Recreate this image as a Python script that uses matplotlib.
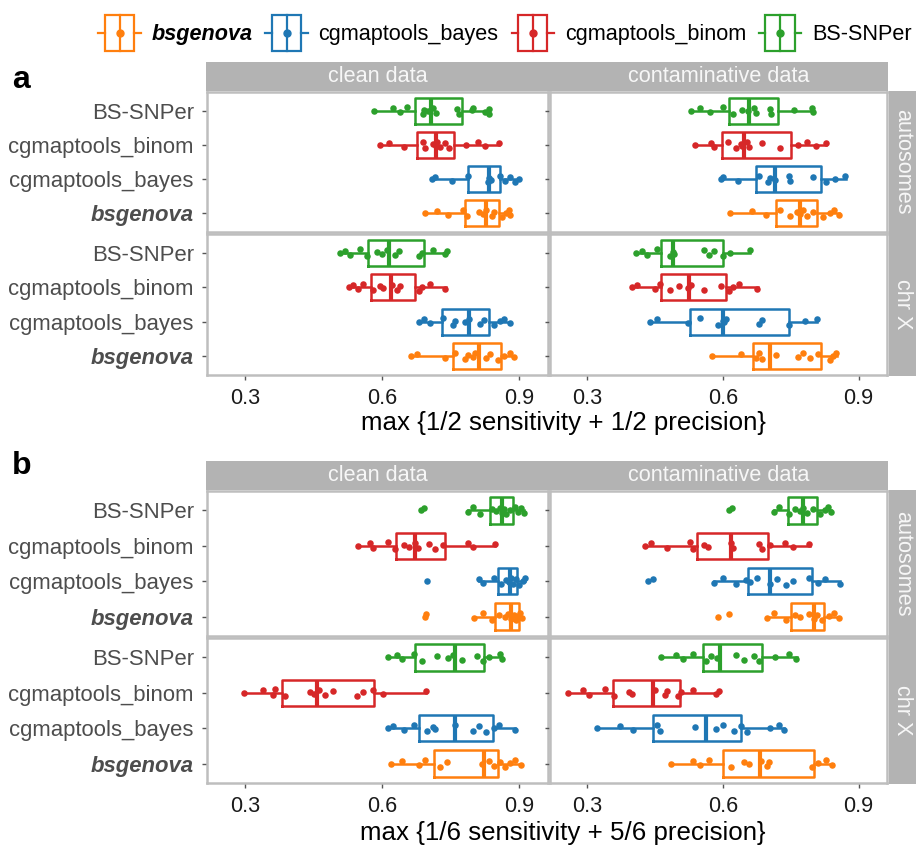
import numpy as np
import matplotlib.pyplot as plt
from matplotlib.legend_handler import HandlerBase
from matplotlib.patches import Rectangle
from matplotlib.lines import Line2D

plt.rcParams['font.family'] = ['Liberation Sans', 'DejaVu Sans']

#%%

# categories, colours and facets

METHODS = ['bsgenova', 'cgmaptools_bayes', 'cgmaptools_binom', 'BS-SNPer']
COLORS = ['#ff7f0e', '#1f77b4', '#d62728', '#2ca02c']
COLS = ['clean data', 'contaminative data']
ROWS = ['autosomes', 'chr X']
XLABELS = {'a': 'max {1/2 sensitivity + 1/2 precision}',
           'b': 'max {1/6 sensitivity + 5/6 precision}'}

#%%

# box stats (whislo, q1, med, q3, whishi) and points, in METHODS order

# panel a
a_clean_auto_box = [(0.695, 0.782, 0.828, 0.856, 0.880),
                    (0.710, 0.788, 0.835, 0.857, 0.899),
                    (0.596, 0.677, 0.718, 0.758, 0.856),
                    (0.582, 0.671, 0.707, 0.774, 0.835)]
a_clean_auto_pts = [[0.695, 0.720, 0.745, 0.778, 0.785, 0.811, 0.820, 0.828, 0.840, 0.844, 0.862, 0.872, 0.877, 0.880],
                    [0.710, 0.716, 0.753, 0.789, 0.831, 0.835, 0.838, 0.858, 0.869, 0.880, 0.891, 0.899],
                    [0.596, 0.616, 0.647, 0.689, 0.695, 0.712, 0.717, 0.721, 0.726, 0.738, 0.747, 0.784, 0.809, 0.826, 0.855],
                    [0.582, 0.623, 0.639, 0.655, 0.689, 0.692, 0.700, 0.712, 0.717, 0.764, 0.769, 0.796, 0.800, 0.826, 0.834, 0.835]]

a_cont_auto_box = [(0.616, 0.718, 0.771, 0.809, 0.857),
                   (0.596, 0.674, 0.716, 0.816, 0.872),
                   (0.537, 0.598, 0.647, 0.751, 0.829),
                   (0.530, 0.614, 0.658, 0.721, 0.799)]
a_cont_auto_pts = [[0.616, 0.665, 0.696, 0.727, 0.749, 0.764, 0.771, 0.778, 0.785, 0.800, 0.822, 0.837, 0.845, 0.857],
                   [0.596, 0.601, 0.634, 0.680, 0.699, 0.705, 0.716, 0.745, 0.749, 0.799, 0.828, 0.847, 0.869],
                   [0.537, 0.574, 0.581, 0.610, 0.628, 0.639, 0.643, 0.654, 0.658, 0.687, 0.727, 0.767, 0.785, 0.806, 0.828],
                   [0.530, 0.550, 0.572, 0.599, 0.623, 0.643, 0.655, 0.669, 0.674, 0.705, 0.707, 0.758, 0.796, 0.799]]

a_clean_x_box = [(0.663, 0.755, 0.813, 0.860, 0.888),
                 (0.680, 0.731, 0.791, 0.833, 0.880),
                 (0.528, 0.575, 0.620, 0.672, 0.740),
                 (0.509, 0.570, 0.615, 0.691, 0.743)]
a_clean_x_pts = [[0.663, 0.676, 0.738, 0.760, 0.782, 0.789, 0.799, 0.804, 0.828, 0.836, 0.853, 0.867, 0.880, 0.888],
                 [0.680, 0.692, 0.705, 0.734, 0.756, 0.760, 0.782, 0.791, 0.815, 0.822, 0.844, 0.857, 0.867, 0.879],
                 [0.528, 0.537, 0.548, 0.559, 0.581, 0.596, 0.601, 0.621, 0.632, 0.639, 0.680, 0.687, 0.705, 0.738],
                 [0.509, 0.519, 0.530, 0.552, 0.566, 0.588, 0.599, 0.610, 0.628, 0.636, 0.680, 0.687, 0.712, 0.738, 0.742]]

a_cont_x_box = [(0.575, 0.666, 0.705, 0.818, 0.853),
                (0.439, 0.528, 0.601, 0.745, 0.809),
                (0.399, 0.463, 0.524, 0.607, 0.677),
                (0.408, 0.463, 0.490, 0.601, 0.660)]
a_cont_x_pts = [[0.575, 0.639, 0.672, 0.680, 0.687, 0.718, 0.767, 0.778, 0.793, 0.811, 0.836, 0.844, 0.851],
                [0.439, 0.453, 0.523, 0.548, 0.588, 0.599, 0.603, 0.607, 0.680, 0.687, 0.745, 0.782, 0.807],
                [0.399, 0.409, 0.450, 0.461, 0.482, 0.502, 0.522, 0.530, 0.558, 0.596, 0.614, 0.621, 0.636, 0.676],
                [0.408, 0.420, 0.431, 0.453, 0.482, 0.490, 0.492, 0.559, 0.570, 0.581, 0.599, 0.616, 0.660]]

# panel b
b_clean_auto_box = [(0.802, 0.847, 0.882, 0.899, 0.907),
                    (0.811, 0.854, 0.880, 0.896, 0.913),
                    (0.548, 0.630, 0.671, 0.737, 0.847),
                    (0.788, 0.837, 0.862, 0.886, 0.911)]
b_clean_auto_pts = [[0.695, 0.697, 0.802, 0.820, 0.840, 0.855, 0.868, 0.875, 0.882, 0.888, 0.892, 0.898, 0.902, 0.907],
                    [0.698, 0.811, 0.820, 0.845, 0.860, 0.872, 0.878, 0.882, 0.886, 0.892, 0.900, 0.908, 0.913],
                    [0.548, 0.573, 0.581, 0.612, 0.628, 0.647, 0.659, 0.671, 0.679, 0.702, 0.716, 0.733, 0.788, 0.800, 0.847],
                    [0.686, 0.692, 0.788, 0.800, 0.815, 0.840, 0.850, 0.858, 0.862, 0.866, 0.872, 0.880, 0.890, 0.898, 0.905, 0.911]]

b_cont_auto_box = [(0.698, 0.750, 0.801, 0.823, 0.857),
                   (0.581, 0.655, 0.705, 0.796, 0.858),
                   (0.428, 0.542, 0.618, 0.699, 0.793),
                   (0.712, 0.743, 0.778, 0.809, 0.840)]
b_cont_auto_pts = [[0.588, 0.614, 0.698, 0.712, 0.740, 0.760, 0.770, 0.790, 0.801, 0.808, 0.820, 0.835, 0.845, 0.857],
                   [0.435, 0.445, 0.581, 0.600, 0.628, 0.650, 0.660, 0.675, 0.705, 0.720, 0.740, 0.755, 0.790, 0.810, 0.825, 0.858],
                   [0.428, 0.441, 0.475, 0.526, 0.534, 0.559, 0.566, 0.618, 0.621, 0.680, 0.687, 0.705, 0.738, 0.756, 0.791],
                   [0.614, 0.620, 0.712, 0.725, 0.745, 0.760, 0.770, 0.778, 0.785, 0.800, 0.815, 0.825, 0.832, 0.840]]

b_clean_x_box = [(0.619, 0.714, 0.822, 0.853, 0.904),
                 (0.612, 0.680, 0.760, 0.842, 0.891),
                 (0.299, 0.382, 0.457, 0.582, 0.696),
                 (0.612, 0.671, 0.760, 0.823, 0.862)]
b_clean_x_pts = [[0.619, 0.643, 0.680, 0.694, 0.727, 0.741, 0.818, 0.833, 0.844, 0.858, 0.869, 0.880, 0.891, 0.904],
                 [0.612, 0.625, 0.647, 0.669, 0.698, 0.712, 0.716, 0.760, 0.800, 0.811, 0.828, 0.844, 0.855, 0.891],
                 [0.299, 0.340, 0.362, 0.366, 0.388, 0.442, 0.450, 0.461, 0.475, 0.493, 0.545, 0.558, 0.581, 0.603, 0.696],
                 [0.612, 0.632, 0.643, 0.669, 0.687, 0.720, 0.745, 0.756, 0.774, 0.807, 0.820, 0.833, 0.858, 0.862]]

b_cont_x_box = [(0.485, 0.601, 0.681, 0.802, 0.844),
                (0.322, 0.445, 0.563, 0.639, 0.734),
                (0.256, 0.356, 0.444, 0.504, 0.592),
                (0.463, 0.555, 0.593, 0.687, 0.764)]
b_cont_x_pts = [[0.485, 0.534, 0.550, 0.570, 0.617, 0.647, 0.658, 0.683, 0.698, 0.702, 0.796, 0.811, 0.828, 0.842],
                [0.322, 0.371, 0.400, 0.453, 0.461, 0.539, 0.585, 0.601, 0.625, 0.639, 0.654, 0.705, 0.723, 0.734],
                [0.256, 0.289, 0.304, 0.339, 0.358, 0.391, 0.399, 0.450, 0.472, 0.475, 0.501, 0.507, 0.534, 0.585, 0.592],
                [0.463, 0.497, 0.512, 0.534, 0.563, 0.574, 0.587, 0.628, 0.647, 0.669, 0.680, 0.716, 0.745, 0.762]]

FACETS = {
    ('a', 0, 0): (a_clean_auto_box, a_clean_auto_pts),
    ('a', 0, 1): (a_cont_auto_box, a_cont_auto_pts),
    ('a', 1, 0): (a_clean_x_box, a_clean_x_pts),
    ('a', 1, 1): (a_cont_x_box, a_cont_x_pts),
    ('b', 0, 0): (b_clean_auto_box, b_clean_auto_pts),
    ('b', 0, 1): (b_cont_auto_box, b_cont_auto_pts),
    ('b', 1, 0): (b_clean_x_box, b_clean_x_pts),
    ('b', 1, 1): (b_cont_x_box, b_cont_x_pts),
}

#%%

# layout (pixels from top-left) and style

W, H = 919, 847
FS = 15.6
STRIP_BG = '#b3b3b3'
BORDER = '#bebebe'
COL_X = [(207, 548), (550, 887)]
RSTRIP_X = (889, 916)
LAYOUT = {'a': dict(strip=(62, 91), rows=[(92, 232), (234, 375)], lab_base=88, xlab=423),
          'b': dict(strip=(461, 490), rows=[(491, 636), (638, 783)], lab_base=474, xlab=833)}
JITTER = [0.00, 0.07, -0.05, 0.10, -0.09, 0.03, -0.02, 0.08,
          -0.07, 0.05, -0.10, 0.01, 0.09, -0.04, 0.06, -0.08]

fig = plt.figure(figsize=(W / 100, H / 100), dpi=100)


def px_axes(x0, y0, x1, y1):
    return fig.add_axes([x0 / W, 1 - y1 / H, (x1 - x0) / W, (y1 - y0) / H])


def strip(x0, y0, x1, y1, text, rot=0):
    sa = px_axes(x0, y0, x1, y1)
    sa.set_facecolor(STRIP_BG)
    sa.set_xticks([])
    sa.set_yticks([])
    for s in sa.spines.values():
        s.set_visible(False)
    sa.text(0.5, 0.5, text, transform=sa.transAxes, ha='center', va='center',
            rotation=rot, color='#f7f7f7', fontsize=FS)


def draw_facet(ax, boxes, pts, bottom, left):
    for i, (st, p, c) in enumerate(zip(boxes, pts, COLORS)):
        stats = [dict(whislo=st[0], q1=st[1], med=st[2], q3=st[3], whishi=st[4])]
        ax.bxp(stats, positions=[i + 1], widths=0.75, orientation='horizontal',
               showfliers=False, showcaps=False,
               boxprops=dict(color=c, lw=1.8),
               medianprops=dict(color=c, lw=3.0),
               whiskerprops=dict(color=c, lw=1.8))
        y = i + 1 + np.array(JITTER[:len(p)])
        ax.scatter(p, y, s=22, color=c, linewidths=0, zorder=3)
    ax.set_xlim(0.217, 0.963)
    ax.set_ylim(0.45, 4.55)
    ax.set_yticks([1, 2, 3, 4])
    ax.set_xticks([0.3, 0.6, 0.9])
    for s in ax.spines.values():
        s.set_color(BORDER)
        s.set_linewidth(1.8)
    ax.tick_params(axis='both', length=3.5, width=1, color='#555555')
    ax.tick_params(axis='y', pad=6, labelsize=15.9, labelcolor='#4d4d4d')
    ax.tick_params(axis='x', pad=6, labelsize=FS, labelcolor='#1a1a1a')
    if left:
        ax.set_yticklabels(METHODS)
        lab = ax.get_yticklabels()[0]
        lab.set_fontweight('bold')
        lab.set_fontstyle('italic')
    else:
        ax.set_yticklabels([])
    if bottom:
        ax.set_xticklabels(['0.3', '0.6', '0.9'])
    else:
        ax.tick_params(axis='x', length=0, labelbottom=False)


for panel, lay in LAYOUT.items():
    s0, s1 = lay['strip']
    for j, (x0, x1) in enumerate(COL_X):
        strip(x0 - 1, s0, x1 + 1, s1, COLS[j])
    for r, (y0, y1) in enumerate(lay['rows']):
        strip(RSTRIP_X[0], y0 - 1, RSTRIP_X[1], y1 + 1, ROWS[r], rot=-90)
        for j, (x0, x1) in enumerate(COL_X):
            ax = px_axes(x0, y0, x1, y1)
            boxes, pts = FACETS[(panel, r, j)]
            draw_facet(ax, boxes, pts, bottom=(r == 1), left=(j == 0))
    fig.text(12 / W, 1 - lay['lab_base'] / H, panel, fontsize=23, fontweight='bold',
             va='baseline', ha='left')
    fig.text(563 / W, 1 - lay['xlab'] / H, XLABELS[panel],
             fontsize=18.6, ha='center', va='center')

#%%

# legend with boxplot-shaped keys


class BoxKey(HandlerBase):
    def create_artists(self, legend, orig_handle, xdescent, ydescent,
                       width, height, fontsize, trans):
        c = orig_handle.get_color()
        x0, y0 = -xdescent, -ydescent
        bl, br = x0 + 0.15 * width, x0 + 0.85 * width
        xm, ym = x0 + width / 2, y0 + height / 2
        rect = Rectangle((bl, y0), br - bl, height, fill=False, ec=c, lw=1.6, transform=trans)
        wl = Line2D([x0, bl], [ym, ym], color=c, lw=1.6, transform=trans)
        wr = Line2D([br, x0 + width], [ym, ym], color=c, lw=1.6, transform=trans)
        med = Line2D([xm, xm], [y0, y0 + height], color=c, lw=1.6, transform=trans)
        dot = Line2D([xm], [ym], marker='o', ms=5, color=c, lw=0, transform=trans)
        return [rect, wl, wr, med, dot]


handles = [Line2D([], [], color=c) for c in COLORS]
leg = fig.legend(handles, METHODS, loc='center', bbox_to_anchor=(505 / W, 1 - 33 / H),
                 ncol=4, frameon=False, fontsize=FS, handler_map={Line2D: BoxKey()},
                 handlelength=1.95, handleheight=2.2, handletextpad=0.5, columnspacing=0.6)
leg.get_texts()[0].set_fontweight('bold')
leg.get_texts()[0].set_fontstyle('italic')

fig.savefig('out.png', dpi=100)
